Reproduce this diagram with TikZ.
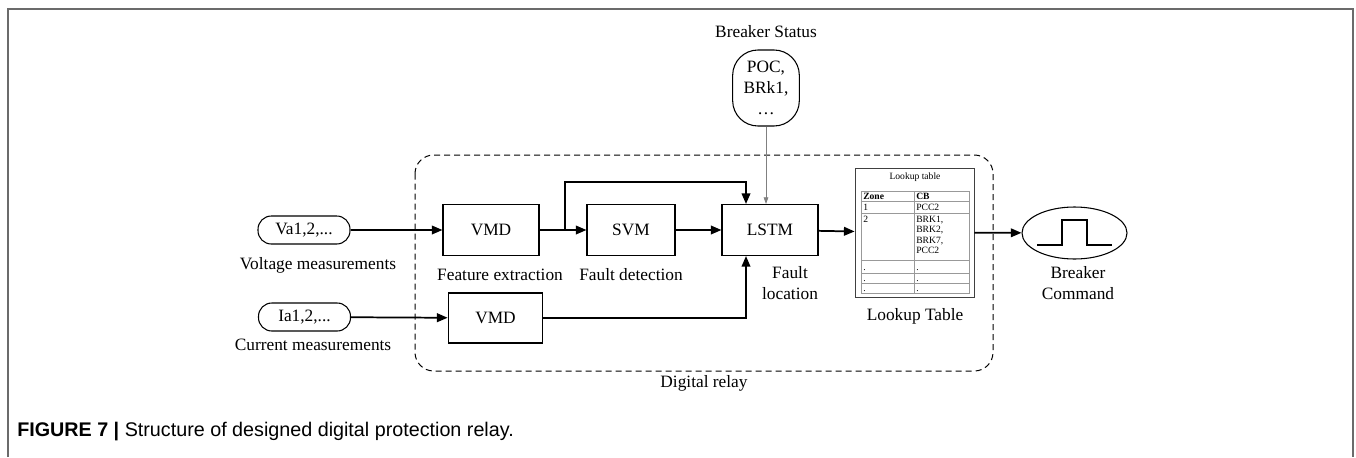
\documentclass[tikz,border=0pt]{standalone}
\usepackage{fontspec}
\setmainfont{Liberation Serif}
\newfontfamily\capfont{Liberation Sans}
\usetikzlibrary{arrows.meta,shapes.geometric}
\begin{document}
\begin{tikzpicture}[x=0.75pt,y=-0.75pt,
  lbl/.style={font=\fontsize{13}{15.5}\selectfont, inner sep=0pt},
  blk/.style={draw, line width=0.8pt, minimum height=38.25pt, font=\fontsize{13}{15.5}\selectfont},
  pill/.style={draw, line width=0.8pt, rounded corners=10pt, minimum width=69pt, minimum height=21pt, font=\fontsize{13}{15.5}\selectfont, inner sep=1pt},
  arr/.style={line width=1.3pt, -{Triangle[length=8pt,width=6.5pt]}},
  thin/.style={draw=gray, line width=0.6pt, -{Triangle[length=5pt,width=3.5pt]}},
  tbl/.style={font=\fontsize{7.2}{7.6}\selectfont, inner sep=0pt, anchor=base west},
  tline/.style={draw=gray!80, line width=0.5pt}]
\useasboundingbox (0,0) rectangle (1356,457);
% outer frame
\draw[color=black!58, line width=1.1pt] (8,457) -- (8,9) -- (1353,9) -- (1353,457);
% dashed relay box
\draw[dashed, dash pattern=on 4.5pt off 3pt, line width=0.75pt, rounded corners=14pt] (415,155) rectangle (993,371);
\node[lbl] (dr) at (704,383) {Digital relay};
% inputs
\node[pill] (va) at (304,230) {Va1,2,...};
\node[lbl] (val) at (318,265) {Voltage measurements};
\node[pill] (ia) at (304.5,317) {Ia1,2,...};
\node[lbl] (ial) at (313,345) {Current measurements};
% blocks
\node[blk, minimum width=72pt] (vmd1) at (491,230) {VMD};
\node[lbl] (fe) at (500,275) {Feature extraction};
\node[blk, minimum width=66pt] (svm) at (631,230) {SVM};
\node[lbl] (fd) at (631,275) {Fault detection};
\node[blk, minimum width=72pt] (lstm) at (770,230) {LSTM};
\node[lbl, align=center] (fl) at (790,283) {Fault\\location};
\node[blk, minimum width=71pt, minimum height=37.5pt] (vmd2) at (495.5,318) {VMD};
% breaker status
\node[lbl] (bsl) at (766,32) {Breaker Status};
\node[draw, line width=0.8pt, rounded corners=19pt, minimum width=50pt, minimum height=57pt, align=center, font=\fontsize{13}{15.75}\selectfont, inner sep=1pt] (bs) at (766,88) {POC,\\BRk1,\\…};
% lookup table
\node[draw=black!75, line width=0.6pt, minimum width=89.25pt, minimum height=96.75pt] (lt) at (914.5,232.5) {};
\node[font=\fontsize{7.2}{7.6}\selectfont, inner sep=0pt] (ltt) at (915,177) {Lookup table};
\draw[tline] (861,191) rectangle (969,293);
\draw[tline] (914,191) -- (914,293);
\foreach \yy in {201,213,260,273,283} {\draw[tline] (861,\yy) -- (969,\yy);}
\node[tbl] (z0) at (863,199) {\bfseries Zone};
\node[tbl] (c0) at (916,199) {\bfseries CB};
\node[tbl] (z1) at (863,210.5) {1};
\node[tbl] (c1) at (916,210.5) {PCC2};
\node[tbl] (z2) at (863,222) {2};
\node[tbl] (c2) at (916,222) {BRK1,};
\node[tbl] (c3) at (916,232.5) {BRK2,};
\node[tbl] (c4) at (916,243) {BRK7,};
\node[tbl] (c5) at (916,253.5) {PCC2};
\foreach \yy/\nm in {270/a,281/b,291/c} {\node[tbl] (zd\nm) at (863,\yy) {.}; \node[tbl] (cd\nm) at (916,\yy) {.};}
\node[lbl] (ltl) at (915,316) {Lookup Table};
% breaker command
\node[draw, ellipse, line width=0.8pt, minimum width=78.75pt, minimum height=39pt] (bc) at (1074.5,233) {};
\draw[line width=0.8pt] (1037,245) -- (1062,245) -- (1062,220) -- (1087,220) -- (1087,245) -- (1112,245);
\node[lbl, align=center] (bcl) at (1078,283) {Breaker\\Command};
% connectors
\coordinate (br) at (565,230);
\coordinate (tp) at (746,182);
\draw[arr] (va) -- (vmd1);
\draw[arr] (vmd1) -- (svm);
\draw[arr] (br) -- (br |- tp) -- (tp) -- (tp |- lstm.north);
\draw[arr] (svm) -- (lstm);
\draw[arr] (ia) -- (vmd2);
\draw[arr] (vmd2.east) -| (tp |- lstm.south);
\draw[arr] (lstm) -- (lt);
\draw[arr] (lt) -- (bc);
\draw[thin] (bs.south) -- (bs.south |- lstm.north);
% caption
\node[anchor=base west, inner sep=0pt, font=\capfont\fontsize{14.8}{17}\selectfont] (cap) at (17,436) {\textbf{FIGURE 7 |} Structure of designed digital protection relay.};
\end{tikzpicture}
\end{document}
